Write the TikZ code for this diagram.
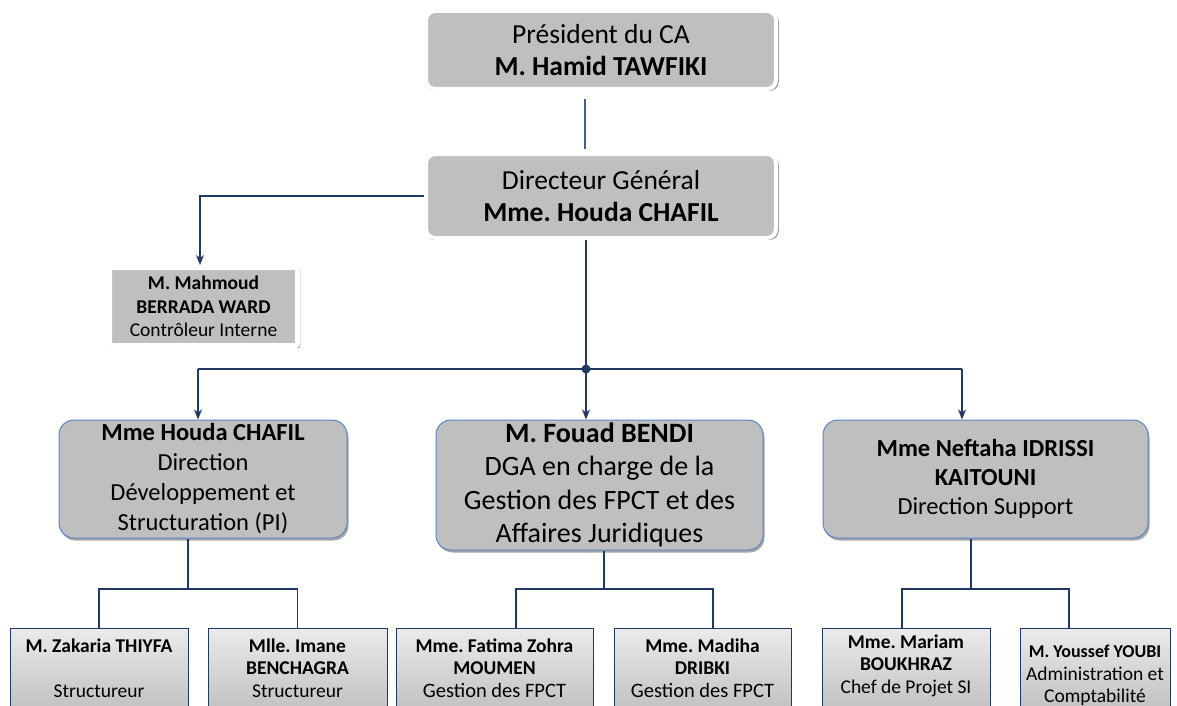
\documentclass[tikz,border=0pt]{standalone}
\usepackage{fontspec}
\setmainfont{Carlito}
\usetikzlibrary{shadows,arrows.meta,calc}
\definecolor{boxgray}{HTML}{BFBFBF}
\definecolor{navy}{HTML}{1F3864}
\definecolor{lblue}{HTML}{5A86C4}
\definecolor{topline}{HTML}{3F5E9A}
\frenchspacing
\begin{document}
\begin{tikzpicture}[x=1pt,y=-1pt,
  topbox/.style={draw=white, line width=4pt, fill=boxgray, rounded corners=9pt,
    drop shadow={shadow xshift=1pt, shadow yshift=-1.5pt, shadow scale=1.01, opacity=0.4, fill=black},
    align=center, inner sep=0pt, font=\fontsize{27.5}{32}\selectfont},
  ctrlbox/.style={draw=white, line width=5pt, fill=boxgray, rounded corners=2pt,
    drop shadow={shadow xshift=1pt, shadow yshift=-1.5pt, shadow scale=1.02, opacity=0.35, fill=black},
    align=center, inner sep=0pt, font=\fontsize{19.5}{23.5}\selectfont},
  midbox/.style={draw=lblue, line width=1pt, fill=boxgray, rounded corners=15pt,
    drop shadow={shadow xshift=1.5pt, shadow yshift=-2.5pt, opacity=0.35, fill=black},
    align=center, inner sep=0pt},
  leafbox/.style={draw=navy, line width=1pt, top color=black!8, bottom color=black!28,
    anchor=north, inner sep=0pt, minimum height=100pt},
  leaftext/.style={align=center, inner sep=0pt, anchor=north, font=\fontsize{19.5}{22.5}\selectfont},
  conn/.style={draw=navy, line width=1.3pt},
  arr/.style={conn, -{Stealth[length=10pt,width=8pt,inset=3pt]}}
]
\useasboundingbox (0,0) rectangle (1177,706);
\clip (0,0) rectangle (1177,706);

% top boxes
\node[topbox, minimum width=350pt, minimum height=78pt] (pres) at (601,50)
  {Président du CA\\\textbf{M. Hamid TAWFIKI}};
\node[topbox, minimum width=350pt, minimum height=84pt] (dg) at (601,196)
  {Directeur Général\\\textbf{Mme. Houda CHAFIL}};
\node[ctrlbox, minimum width=188pt, minimum height=78pt] (mah) at (203.5,306.5)
  {\textbf{M. Mahmoud}\\\textbf{BERRADA WARD}\\Contrôleur Interne};

% middle boxes
\node[midbox, minimum width=288pt, minimum height=118pt, font=\fontsize{24.5}{30}\selectfont] (A) at (203,479)
  {\textbf{Mme Houda CHAFIL}\\Direction\\Développement et\\Structuration (PI)};
\node[midbox, minimum width=327pt, minimum height=130pt, font=\fontsize{28}{33.5}\selectfont] (B) at (599.5,485)
  {\textbf{M. Fouad BENDI}\\DGA en charge de la\\Gestion des FPCT et des\\Affaires Juridiques};
\node[midbox, minimum width=325pt, minimum height=118pt, font=\fontsize{24.5}{29}\selectfont] (C) at (985.5,479)
  {\textbf{Mme Neftaha IDRISSI}\\\textbf{KAITOUNI}\\Direction Support};

% leaf boxes
\node[leafbox, minimum width=178pt] (b1) at (99,628) {};
\node[leafbox, minimum width=179pt] (b2) at (297.5,628) {};
\node[leafbox, minimum width=197pt] (b3) at (494.5,628) {};
\node[leafbox, minimum width=177pt] (b4) at (702.5,628) {};
\node[leafbox, minimum width=168pt] (b5) at (906,628) {};
\node[leafbox, minimum width=150pt] (b6) at (1095,628) {};

\node[leaftext] (t1) at (99,638.5) {\textbf{M. Zakaria THIYFA}\\ \\Structureur};
\node[leaftext] (t2) at (297.5,638.5) {\textbf{Mlle. Imane}\\\textbf{BENCHAGRA}\\Structureur};
\node[leaftext] (t3) at (494.5,638.5) {\textbf{Mme. Fatima Zohra}\\\textbf{MOUMEN}\\{\fontsize{20.5}{22.5}\selectfont Gestion des FPCT}};
\node[leaftext] (t4) at (702.5,638.5) {\textbf{Mme. Madiha}\\\textbf{DRIBKI}\\{\fontsize{20.5}{22.5}\selectfont Gestion des FPCT}};
\node[leaftext] (t5) at (906,634.5) {\textbf{Mme. Mariam}\\\textbf{BOUKHRAZ}\\Chef de Projet SI};
\node[leaftext] (t6) at (1095,645) {{\fontsize{18}{22.5}\selectfont\textbf{M. Youssef YOUBI}}\\Administration et\\Comptabilité};

% connectors
\coordinate (v0) at (585,0);
\draw[draw=topline, line width=1.2pt, shorten <=8pt, shorten >=3pt] (pres.south -| v0) -- (dg.north -| v0);

\coordinate (k1) at (200,0);
\draw[arr] (dg.west) -| (k1 |- mah.north);

\coordinate (j) at (586,369);
\coordinate (ja) at (198,369);
\coordinate (jc) at (962,369);
\draw[conn] (dg.south -| j) -- (j);
\draw[conn] (ja) -- (jc);
\draw[arr] (ja) -- (ja |- A.north);
\draw[arr] (j) -- (j |- B.north);
\draw[arr] (jc) -- (jc |- C.north);
\fill[navy] (j) circle (4.5pt);

\coordinate (ba) at (188,589);
\draw[conn] (A.south -| ba) -- (ba);
\draw[conn] (b1.north) |- (ba) -| (b2.north);

\coordinate (bb) at (604,589);
\coordinate (bb3) at (516,589);
\coordinate (bb4) at (713,589);
\draw[conn] (B.south -| bb) -- (bb);
\draw[conn] (b3.north -| bb3) -- (bb3) -- (bb4) -- (b4.north -| bb4);

\coordinate (bc) at (971,589);
\coordinate (bc5) at (902,589);
\coordinate (bc6) at (1069,589);
\draw[conn] (C.south -| bc) -- (bc);
\draw[conn] (b5.north -| bc5) -- (bc5) -- (bc6) -- (b6.north -| bc6);
\end{tikzpicture}
\end{document}
